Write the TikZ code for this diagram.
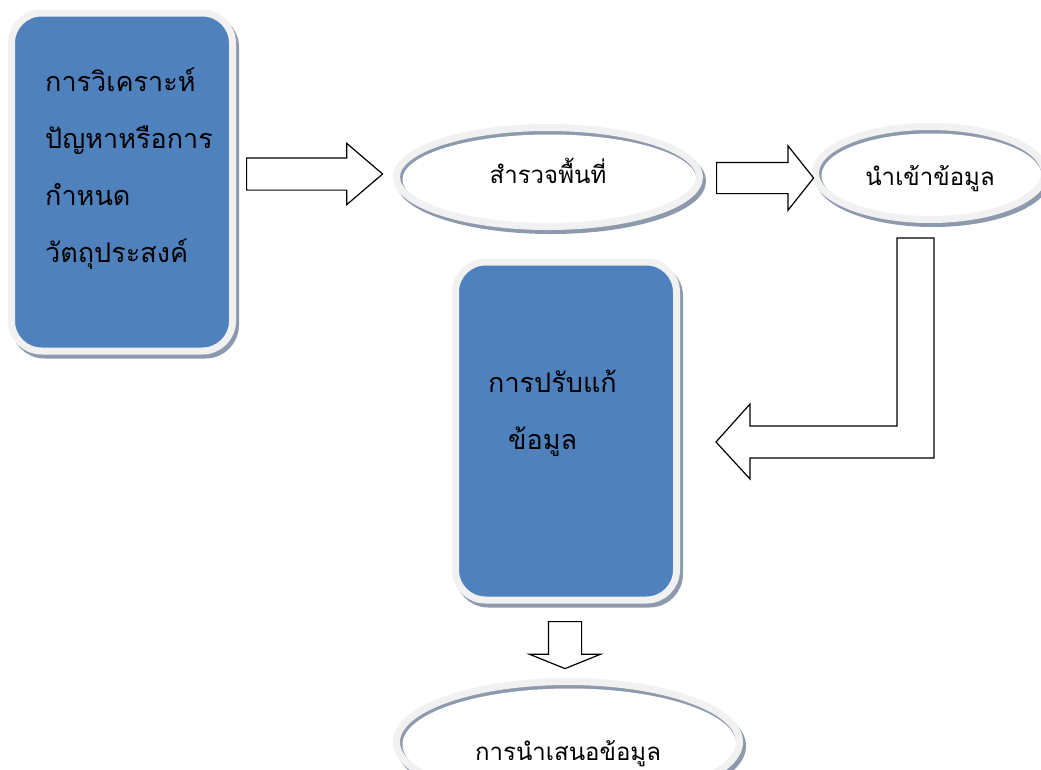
\documentclass[tikz,border=0pt]{standalone}
\usepackage{fontspec}
\newfontfamily\thaifont[Script=Thai]{Loma}
\usetikzlibrary{shapes.geometric, shapes.arrows, positioning, calc}

\definecolor{boxblue}{HTML}{4F81BD}
\definecolor{ringgray}{HTML}{F1F1F1}
\definecolor{shadegray}{HTML}{8D9AAE}

\newcommand{\lowertext}[2]{\raisebox{-#1}[0pt][0pt]{#2}}

\tikzset{
  shadowed/.style={preaction={draw=shadegray, fill=shadegray, line width=7pt,
      transform canvas={shift={(3pt,-4pt)}}}},
  roundbox/.style={shadowed, draw=ringgray, line width=7pt, fill=boxblue,
      rounded corners=30pt, minimum width=221pt, minimum height=338pt},
  ovalbox/.style={shadowed, ellipse, draw=ringgray, line width=7pt, fill=white,
      inner sep=0pt, font=\thaifont\fontsize{24}{27}\selectfont,
      path picture={
        \fill[shadegray] (path picture bounding box.south west)
          rectangle (path picture bounding box.north east);
        \fill[white] let \p1=($(path picture bounding box.north east)-(path picture bounding box.center)$)
          in ($(path picture bounding box.center)+(1.5pt,-2.5pt)$)
          ellipse [x radius=\x1-4.5pt, y radius=\y1-4.5pt];
      }},
  boxtext/.style={font=\thaifont\fontsize{27}{57}\selectfont, align=left, inner sep=0pt},
  blockarrow/.style={single arrow, draw=black, line width=1.2pt, fill=white,
      text height=0pt, text depth=0pt, text width=0pt,
      single arrow head indent=0pt, anchor=tail},
}

\begin{document}
\begin{tikzpicture}[x=1pt, y=-1pt]
\useasboundingbox (0,0) rectangle (1041,769);

% blue boxes
\node[roundbox] (problem) at (122,182) {};
\node[boxtext, anchor=north west] (problemtext) at (45,68)
  {การวิเคราะห์\\ปัญหาหรือการ\\กำหนด\\วัตถุประสงค์};
\node[roundbox] (edit) at (566,431) {};
\node[boxtext, anchor=north west] (edittext) at (488,370)
  {การปรับแก้\\\hspace*{20pt}ข้อมูล};

% ovals
\node[ovalbox, minimum width=303pt, minimum height=99pt] (survey) at (548,177) {\lowertext{6pt}{สำรวจพื้นที่}};
\node[ovalbox, minimum width=229pt, minimum height=93pt] (import) at (930,173) {\lowertext{12pt}{นำเข้าข้อมูล}};
\node[ovalbox, minimum width=343pt, minimum height=121pt] (present) at (568,742) {\lowertext{18pt}{การนำเสนอข้อมูล}};

% block arrows
\node[blockarrow, inner xsep=0pt, inner ysep=15.5pt, single arrow head extend=14.5pt,
  single arrow tip angle=81, minimum height=136pt] (arrowA) at (246,174) {};
\node[blockarrow, inner xsep=0pt, inner ysep=15pt, single arrow head extend=16.5pt,
  single arrow tip angle=103, minimum height=97pt] (arrowB) at (716,178) {};
\node[blockarrow, shape border rotate=270, inner xsep=16pt, inner ysep=0pt,
  single arrow head extend=19pt, single arrow tip angle=136,
  minimum height=47pt] (arrowC) at (565,621) {};

% bent arrow from import back to edit
\coordinate (bendtop) at (897,238);
\coordinate (bendtip) at (716,442);
\draw[line width=1.2pt, fill=white, line join=miter]
  (bendtop) -- ++(37,0) -- (934,458) -- (750,458) -- (750,479) -- (bendtip)
  -- (750,404) -- (750,426) -- (897,426) -- cycle;
\end{tikzpicture}
\end{document}
